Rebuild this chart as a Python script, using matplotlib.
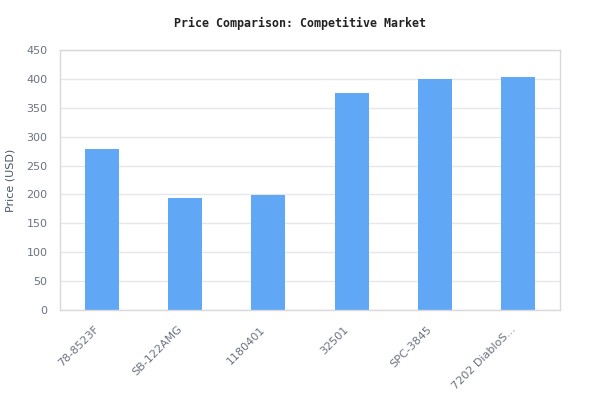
import matplotlib
matplotlib.use("Agg")
import matplotlib.pyplot as plt
from matplotlib.transforms import ScaledTranslation

categories = ["78-8523F", "SB-122AMG", "1180401", "32501", "SPC-3845", "7202 DiabloS..."]
prices = [279, 194, 199, 376, 400, 404]
y_ticks = [0, 50, 100, 150, 200, 250, 300, 350, 400, 450]

BAR_COLOR = "#60a8f5"
GRID_COLOR = "#e5e7eb"
TICK_COLOR = "#6b7280"

fig = plt.figure(figsize=(6, 4.2), dpi=100)
ax = fig.add_axes([0.1, 0.262, 0.8333, 0.619])

positions = list(range(len(categories)))
ax.bar(positions, prices, width=0.41, color=BAR_COLOR, zorder=2)

ax.set_xlim(-0.5, len(categories) - 0.5)
ax.set_ylim(0, 450)
ax.set_yticks(y_ticks)
ax.set_xticks(positions)
ax.set_xticklabels(categories, rotation=45, ha="right", rotation_mode="anchor")
ax.grid(axis="y", color=GRID_COLOR, linewidth=1, zorder=0)
ax.tick_params(length=0, labelsize=8, colors=TICK_COLOR)
ax.tick_params(axis="y", pad=9)
ax.tick_params(axis="x", pad=8)
shift = ScaledTranslation(-8 / 100, -3 / 100, fig.dpi_scale_trans)
for label in ax.get_xticklabels():
    label.set_transform(label.get_transform() + shift)
for spine in ax.spines.values():
    spine.set_color("#d9d9d9")
    spine.set_linewidth(1)

ax.set_ylabel("Price (USD)", fontsize=8, color="#4b5563")
ax.yaxis.set_label_coords(-0.089, 0.5)
fig.suptitle("Price Comparison: Competitive Market", x=0.5, y=0.96,
             fontsize=8.4, fontweight="bold", family="DejaVu Sans Mono", color="#222222")

fig.savefig("out.png", dpi=100)
